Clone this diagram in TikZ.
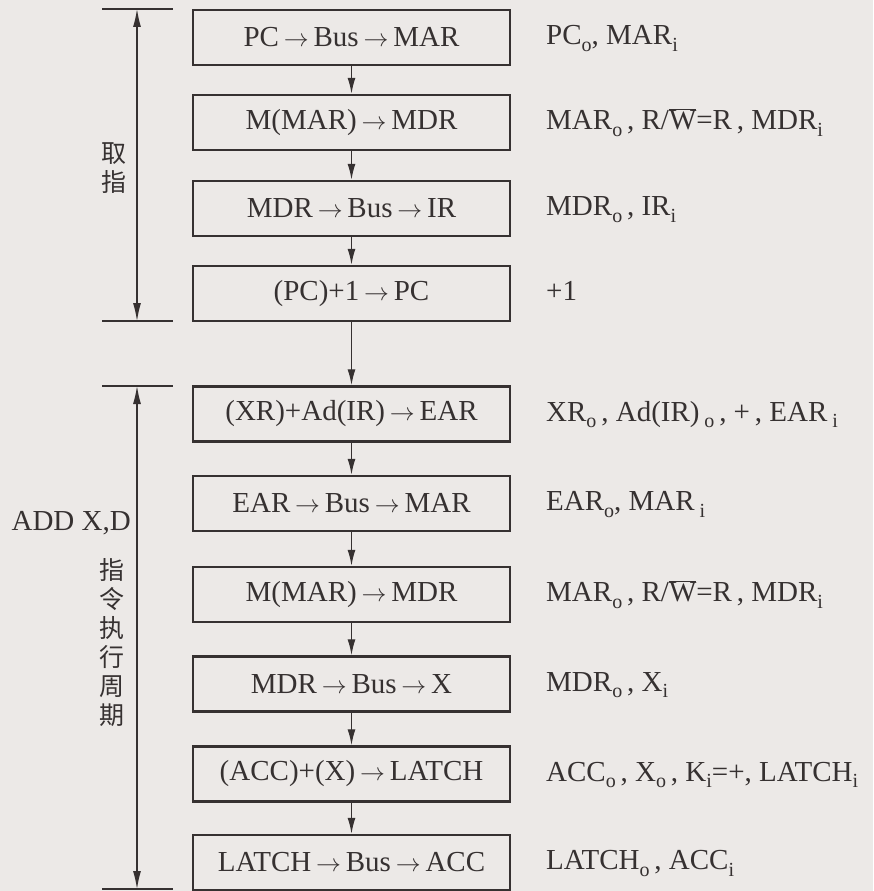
\documentclass[tikz,border=0pt]{standalone}
\usepackage{fontspec}
\setmainfont{Liberation Serif}
\newfontfamily\cjk{Noto Sans CJK SC}
\usetikzlibrary{arrows.meta}
\definecolor{ink}{HTML}{363131}
\definecolor{paper}{HTML}{ECE9E7}
\newcommand\sbs[1]{\raisebox{-0.24em}{\fontsize{20}{20}\selectfont #1}}
\newcommand\arr{\,$\rightarrow$\,}
\newcommand\ovW{$\overline{\mbox{W}}$}
\begin{document}
\begin{tikzpicture}[x=1pt,y=-1pt,
  every node/.style={text=ink, font=\fontsize{29}{32}\selectfont},
  stepbox/.style={draw=ink, line width=2.5pt, minimum width=317pt, minimum height=55pt, inner sep=0pt},
  sig/.style={anchor=base west, inner sep=0pt},
  flow/.style={draw=ink, line width=1.4pt, -{Latex[length=16pt,width=8pt]}},
  span/.style={draw=ink, line width=1.2pt, {Latex[length=18pt,width=8pt]}-{Latex[length=18pt,width=8pt]}},
  tickline/.style={draw=ink, line width=1.2pt},
  cjklabel/.style={align=center, inner sep=0pt, font=\cjk\fontsize{25}{29}\selectfont}]
\fill[paper] (0,0) rectangle (873,891);
\useasboundingbox (0,0) rectangle (873,891);
% boxes
\node[stepbox] (b1) at (351.5,37.5) {PC\arr Bus\arr MAR};
\node[stepbox] (b2) at (351.5,122.5) {M(MAR)\arr MDR};
\node[stepbox] (b3) at (351.5,208.5) {MDR\arr Bus\arr IR};
\node[stepbox] (b4) at (351.5,293.5) {(PC)+1\arr PC};
\node[stepbox] (b5) at (351.5,414) {(XR)+Ad(IR)\arr EAR};
\node[stepbox] (b6) at (351.5,503.5) {EAR\arr Bus\arr MAR};
\node[stepbox] (b7) at (351.5,594.5) {M(MAR)\arr MDR};
\node[stepbox] (b8) at (351.5,684) {MDR\arr Bus\arr X};
\node[stepbox] (b9) at (351.5,774) {(ACC)+(X)\arr LATCH};
\node[stepbox] (b10) at (351.5,862.5) {LATCH\arr Bus\arr ACC};
% connectors
\foreach \a/\b in {b1/b2,b2/b3,b3/b4,b4/b5,b5/b6,b6/b7,b7/b8,b8/b9,b9/b10}
  \draw[flow] (\a.south) -- (\b.north);
% signals
\node[sig] (s1) at (546,44.5) {PC\sbs{o}, MAR\sbs{i}};
\node[sig] (s2) at (546,129.5) {MAR\sbs{o}\,, R/\ovW=R\,, MDR\sbs{i}};
\node[sig] (s3) at (546,215.5) {MDR\sbs{o}\,, IR\sbs{i}};
\node[sig] (s4) at (546,300.5) {+1};
\node[sig] (s5) at (546,421) {XR\sbs{o}\,, Ad(IR)\,\sbs{o}\,, +\,, EAR\,\sbs{i}};
\node[sig] (s6) at (546,510.5) {EAR\sbs{o}, MAR\,\sbs{i}};
\node[sig] (s7) at (546,601.5) {MAR\sbs{o}\,, R/\ovW=R\,, MDR\sbs{i}};
\node[sig] (s8) at (546,691) {MDR\sbs{o}\,, X\sbs{i}};
\node[sig] (s9) at (546,781) {ACC\sbs{o}\,, X\sbs{o}\,, K\sbs{i}=+, LATCH\sbs{i}};
\node[sig] (s10) at (546,869.5) {LATCH\sbs{o}\,, ACC\sbs{i}};
% brackets
\coordinate (t1l) at (102,9);   \coordinate (t1r) at (173,9);
\coordinate (t2l) at (102,321); \coordinate (t2r) at (173,321);
\coordinate (t3l) at (102,386); \coordinate (t3r) at (173,386);
\coordinate (t4l) at (102,889); \coordinate (t4r) at (173,889);
\coordinate (a1) at (137,9);   \coordinate (a2) at (137,321);
\coordinate (a3) at (137,386); \coordinate (a4) at (137,889);
\draw[tickline] (t1l) -- (t1r);
\draw[tickline] (t2l) -- (t2r);
\draw[tickline] (t3l) -- (t3r);
\draw[tickline] (t4l) -- (t4r);
\draw[span] (a1) -- (a2);
\draw[span] (a3) -- (a4);
% side labels
\node[cjklabel] (fetch) at (114,168) {取\\指};
\node[anchor=east, inner sep=0pt] (instr) at (131,523) {ADD X,D};
\node[cjklabel] (exec) at (112,642.5) {指\\令\\执\\行\\周\\期};
\end{tikzpicture}
\end{document}
